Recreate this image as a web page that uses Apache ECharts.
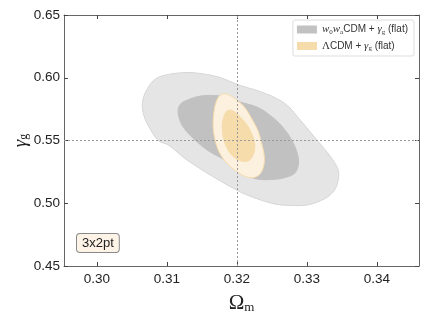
<!DOCTYPE html>
<html>
<head>
<meta charset="utf-8">
<script src="https://cdn.jsdelivr.net/npm/echarts@6/dist/echarts.min.js"></script>
<style>
  html, body { margin: 0; padding: 0; background: #fff; }
  #chart { width: 430px; height: 322px; }
</style>
</head>
<body>
<div id="chart"></div>
<script>
// contour outlines, [Omega_m, gamma_g]
const w0waOuter = [
  [0.3065, 0.5805], [0.3072, 0.5912], [0.3084, 0.5992], [0.3102, 0.6026], [0.3129, 0.6042],
  [0.3150, 0.6032], [0.3174, 0.6005], [0.3205, 0.5938], [0.3229, 0.5898], [0.3253, 0.5845],
  [0.3272, 0.5779], [0.3291, 0.5659], [0.3315, 0.5499], [0.3334, 0.5369], [0.3344, 0.5275],
  [0.3345, 0.5195], [0.3339, 0.5102], [0.3325, 0.5035], [0.3301, 0.4987], [0.3277, 0.4982],
  [0.3253, 0.4995], [0.3229, 0.5035], [0.3205, 0.5089], [0.3179, 0.5169], [0.3155, 0.5249],
  [0.3126, 0.5355], [0.3103, 0.5461], [0.3088, 0.5499], [0.3076, 0.5592], [0.3067, 0.5699]
];
const w0waInner = [
  [0.3116, 0.5723], [0.3119, 0.5787], [0.3131, 0.5826], [0.3148, 0.5854], [0.3169, 0.5858],
  [0.3191, 0.5838], [0.3205, 0.5806], [0.3230, 0.5763], [0.3253, 0.5675], [0.3267, 0.5595],
  [0.3277, 0.5515], [0.3285, 0.5419], [0.3288, 0.5323], [0.3283, 0.5243], [0.3270, 0.5207],
  [0.3253, 0.5191], [0.3227, 0.5195], [0.3202, 0.5259], [0.3184, 0.5339], [0.3159, 0.5419],
  [0.3138, 0.5515], [0.3122, 0.5619]
];
const lcdmOuter = [
  [0.3166, 0.5605], [0.3167, 0.5723], [0.3171, 0.5818], [0.3177, 0.5866], [0.3185, 0.5870],
  [0.3195, 0.5842], [0.3210, 0.5771], [0.3221, 0.5675], [0.3230, 0.5579], [0.3235, 0.5483],
  [0.3239, 0.5379], [0.3238, 0.5291], [0.3232, 0.5227], [0.3222, 0.5203], [0.3211, 0.5215],
  [0.3198, 0.5259], [0.3185, 0.5323], [0.3175, 0.5403], [0.3169, 0.5499]
];
const lcdmInner = [
  [0.3179, 0.5605], [0.3181, 0.5683], [0.3186, 0.5735], [0.3193, 0.5739], [0.3205, 0.5685],
  [0.3215, 0.5619], [0.3221, 0.5555], [0.3225, 0.5483], [0.3225, 0.5419], [0.3221, 0.5363],
  [0.3215, 0.5335], [0.3205, 0.5339], [0.3195, 0.5371], [0.3187, 0.5427], [0.3181, 0.5515]
];
const xTicks = [0.30, 0.31, 0.32, 0.33, 0.34];
const fiducial = [0.32, 0.55];

const chart = echarts.init(document.getElementById('chart'));

function contourSeries(name, pts, fill, stroke, z) {
  return {
    type: 'custom',
    name: name,
    z: z,
    silent: true,
    itemStyle: { color: fill },
    data: pts,
    encode: { x: 0, y: 1 },
    renderItem: function (params, api) {
      if (params.dataIndex !== 0) return;
      const poly = pts.map(p => api.coord(p));
      return {
        type: 'polygon',
        shape: { points: poly, smooth: 0.35 },
        style: { fill: fill, stroke: stroke, lineWidth: 1 }
      };
    }
  };
}

const rich = {
  i: { fontFamily: 'Liberation Serif', fontStyle: 'italic', fontSize: 11, color: '#333' },
  r: { fontFamily: 'Liberation Serif', fontSize: 11, color: '#333' },
  s: { fontFamily: 'Liberation Serif', fontSize: 7, color: '#333', padding: [5, 0, 0, 0] },
  t: { fontFamily: 'Liberation Sans', fontSize: 10, color: '#333' }
};

const axisCommon = {
  type: 'value',
  axisLine: { show: true, lineStyle: { color: '#666', width: 1 } },
  axisTick: { show: true, inside: true, length: 4, lineStyle: { color: '#444' } },
  splitLine: { show: false }
};

const option = {
  animation: false,
  grid: { left: 64, top: 15, right: 11, bottom: 56, outerBoundsMode: 'none' },
  legend: {
    orient: 'vertical',
    right: 16,
    top: 20,
    padding: [4, 6, 4, 4],
    itemGap: 5,
    itemWidth: 20,
    itemHeight: 8,
    icon: 'rect',
    borderColor: '#ddd',
    borderWidth: 1,
    borderRadius: 2,
    backgroundColor: '#fff',
    data: [
      { name: 'w0wa', itemStyle: { color: '#c2c2c2' } },
      { name: 'lcdm', itemStyle: { color: '#f6dcab' } }
    ],
    textStyle: { rich: rich },
    formatter: function (name) {
      if (name === 'w0wa') return '{i|w}{s|0}{i|w}{s|a}{t|CDM + }{i|γ}{s|g}{t| (flat)}';
      return '{r|Λ}{t|CDM + }{i|γ}{s|g}{t| (flat)}';
    }
  },
  xAxis: [
    Object.assign({}, axisCommon, {
      position: 'bottom', min: 0.2953, max: 0.346,
      axisTick: Object.assign({}, axisCommon.axisTick, { customValues: xTicks }),
      axisLabel: {
        customValues: xTicks, margin: 6, fontSize: 13.5, color: '#222', fontFamily: 'Liberation Sans',
        formatter: v => v.toFixed(2)
      },
      name: '{o|Ω}{m|m}', nameLocation: 'middle', nameGap: 27,
      nameTextStyle: { rich: {
        o: { fontFamily: 'Liberation Serif', fontSize: 21, color: '#222' },
        m: { fontFamily: 'Liberation Serif', fontSize: 13, color: '#222', padding: [8, 0, 0, 0] }
      } }
    }),
    Object.assign({}, axisCommon, {
      position: 'top', min: 0.2953, max: 0.346,
      axisTick: Object.assign({}, axisCommon.axisTick, { customValues: xTicks }),
      axisLabel: { show: false }
    })
  ],
  yAxis: [
    Object.assign({}, axisCommon, {
      position: 'left', min: 0.45, max: 0.65, interval: 0.05,
      axisLabel: { margin: 4, fontSize: 13.5, color: '#222', fontFamily: 'Liberation Sans', formatter: v => v.toFixed(2) },
      name: '{g|γ}{s|g}', nameLocation: 'middle', nameGap: 34, nameRotate: 90, nameMoveOverlap: false,
      nameTextStyle: { rich: {
        g: { fontFamily: 'Liberation Serif', fontStyle: 'italic', fontSize: 19, color: '#222' },
        s: { fontFamily: 'Liberation Serif', fontSize: 12, color: '#222', padding: [7, 0, 0, 0] }
      } }
    }),
    Object.assign({}, axisCommon, {
      position: 'right', min: 0.45, max: 0.65, interval: 0.05,
      axisLabel: { show: false }
    })
  ],
  graphic: [{
    type: 'text',
    left: 76,
    top: 233,
    style: {
      text: '3x2pt',
      font: '13px "Liberation Sans"',
      fill: '#222',
      backgroundColor: '#fdf3e6',
      borderColor: '#8a8a8a',
      borderWidth: 1,
      borderRadius: 3,
      padding: [3, 5, 2, 5]
    }
  }],
  series: [
    contourSeries('w0wa', w0waOuter, '#e5e5e5', '#d6d6d6', 1),
    contourSeries('w0wa', w0waInner, '#c1c1c1', '#c1c1c1', 2),
    contourSeries('lcdm', lcdmOuter, '#fcf0df', '#f6dcab', 3),
    contourSeries('lcdm', lcdmInner, '#f6dcab', '#f6dcab', 4),
    {
      type: 'line',
      name: 'fiducial',
      data: [],
      z: 10,
      markLine: {
        silent: true,
        symbol: 'none',
        label: { show: false },
        lineStyle: { type: [2, 2], color: '#9a9a9a', width: 1 },
        data: [{ xAxis: fiducial[0] }, { yAxis: fiducial[1] }]
      }
    }
  ]
};

chart.setOption(option);
</script>
</body>
</html>
